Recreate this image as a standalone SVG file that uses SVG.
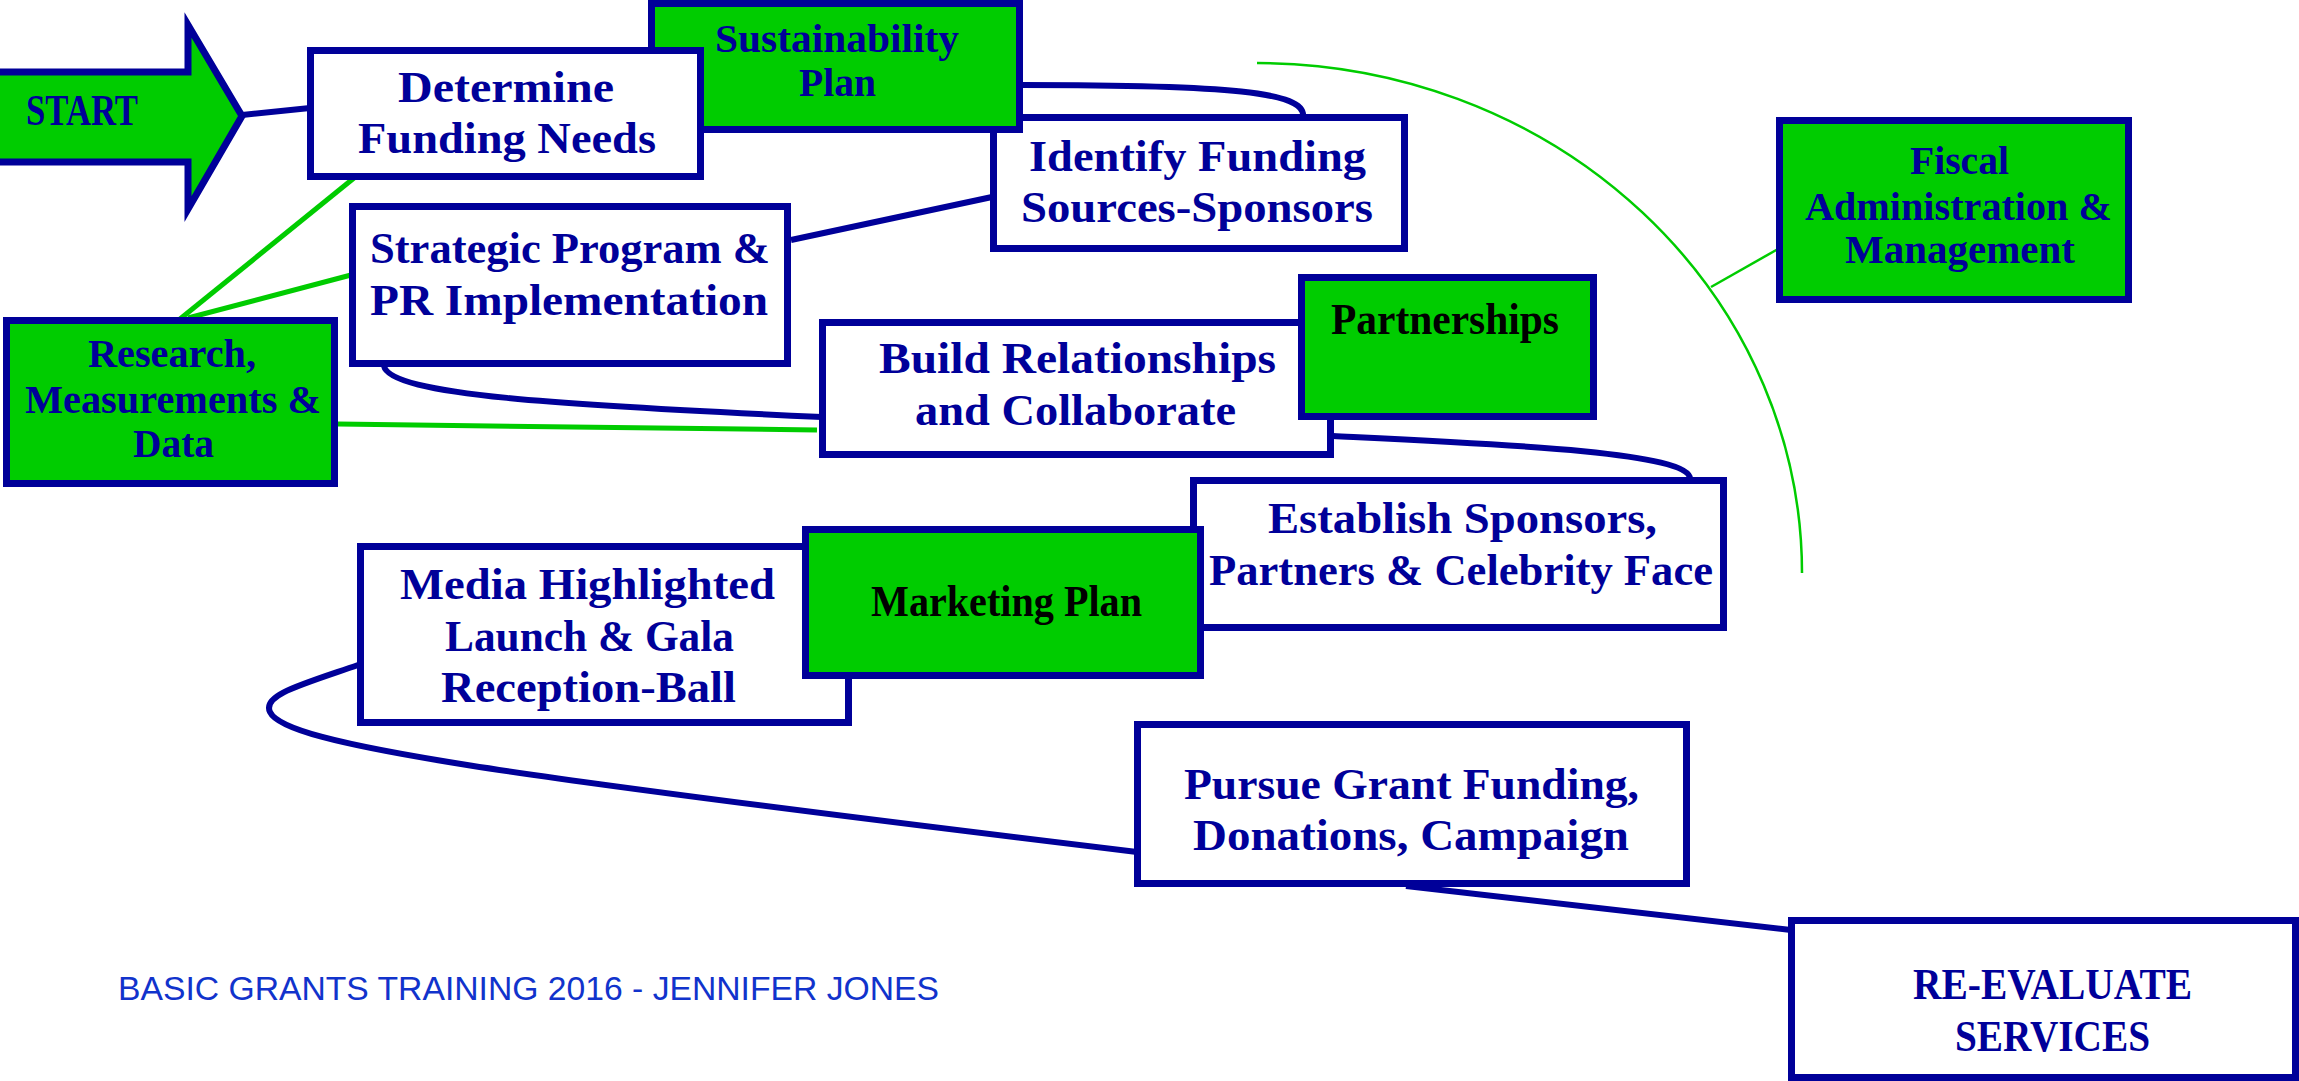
<svg xmlns="http://www.w3.org/2000/svg" width="2299" height="1081" viewBox="0 0 2299 1081">
<style>
.bw{fill:#ffffff;stroke:#000099;stroke-width:7}
.bg{fill:#00cc00;stroke:#000099;stroke-width:7}
.t{font-family:"Liberation Serif","Times New Roman",serif;font-weight:bold;font-size:44px;fill:#000099;text-anchor:middle}
.s{font-size:39px}
.k{fill:#000000}
.cn{fill:none;stroke:#000099;stroke-width:6}
.cg{fill:none;stroke:#00cc00;stroke-width:5}
.ca{fill:none;stroke:#00cc00;stroke-width:2.5}
.ft{font-family:"Liberation Sans",Arial,sans-serif;font-size:33px;fill:#1133cc}
</style>
<rect width="2299" height="1081" fill="#ffffff"/>
<g id="connectors">
<path class="cn" d="M242,115 L310,108"/>
<path class="cn" d="M1022,85 C1230,85 1305,92 1303,116"/>
<path class="cn" d="M791,240 L992,197"/>
<path class="cn" d="M384,366 C390,395 560,405 822,417"/>
<path class="cn" d="M1333,436 C1500,444 1692,452 1690,479"/>
<path class="cn" d="M358,665 C300,685 262,695 270,712 C285,745 500,775 1137,852"/>
<path class="cn" d="M1406,886 L1791,930"/>
<path class="cg" d="M180,319 L354,178"/>
<path class="cg" d="M188,318 L351,275"/>
<path class="cg" d="M338,424 L817,430"/>
<path class="ca" d="M1257,63 A545,510 0 0 1 1802,573"/>
<path class="ca" d="M1711,287 L1778,249"/>
</g>
<g id="start">
<polygon points="-10,72 188,72 188,25 242,116 188,209 188,162 -10,162" fill="#00cc00" stroke="#000099" stroke-width="7" stroke-linejoin="miter"/>
<text class="t" x="82" y="125" textLength="112" lengthAdjust="spacingAndGlyphs">START</text>
</g>
<g id="identify">
<rect class="bw" x="993.5" y="117.5" width="411" height="131"/>
<text class="t" x="1197.5" y="171" textLength="337" lengthAdjust="spacingAndGlyphs">Identify Funding</text>
<text class="t" x="1197" y="222" textLength="352" lengthAdjust="spacingAndGlyphs">Sources-Sponsors</text>
</g>
<g id="sustainability">
<rect class="bg" x="651.5" y="3.5" width="368" height="126"/>
<text class="t s" x="837" y="52" textLength="244" lengthAdjust="spacingAndGlyphs">Sustainability</text>
<text class="t s" x="837.5" y="96" textLength="77" lengthAdjust="spacingAndGlyphs">Plan</text>
</g>
<g id="determine">
<rect class="bw" x="310.5" y="50.5" width="390" height="126"/>
<text class="t" x="506" y="102" textLength="216" lengthAdjust="spacingAndGlyphs">Determine</text>
<text class="t" x="507" y="153" textLength="298" lengthAdjust="spacingAndGlyphs">Funding Needs</text>
</g>
<g id="fiscal">
<rect class="bg" x="1779.5" y="120.5" width="349" height="179"/>
<text class="t s" x="1959.5" y="174" textLength="99" lengthAdjust="spacingAndGlyphs">Fiscal</text>
<text class="t s" x="1958.5" y="220" textLength="307" lengthAdjust="spacingAndGlyphs">Administration &amp;</text>
<text class="t s" x="1960" y="263" textLength="230" lengthAdjust="spacingAndGlyphs">Management</text>
</g>
<g id="strategic">
<rect class="bw" x="352.5" y="206.5" width="435" height="157"/>
<text class="t" x="570" y="263" textLength="400" lengthAdjust="spacingAndGlyphs">Strategic Program &amp;</text>
<text class="t" x="569" y="315" textLength="398" lengthAdjust="spacingAndGlyphs">PR Implementation</text>
</g>
<g id="research">
<rect class="bg" x="6.5" y="320.5" width="328" height="163"/>
<text class="t s" x="172" y="367" textLength="168" lengthAdjust="spacingAndGlyphs">Research,</text>
<text class="t s" x="173" y="413" textLength="296" lengthAdjust="spacingAndGlyphs">Measurements &amp;</text>
<text class="t s" x="173.5" y="457" textLength="81" lengthAdjust="spacingAndGlyphs">Data</text>
</g>
<g id="build">
<rect class="bw" x="822.5" y="322.5" width="508" height="132"/>
<text class="t" x="1077.5" y="373" textLength="397" lengthAdjust="spacingAndGlyphs">Build Relationships</text>
<text class="t" x="1075.5" y="425" textLength="321" lengthAdjust="spacingAndGlyphs">and Collaborate</text>
</g>
<g id="partnerships">
<rect class="bg" x="1301.5" y="277.5" width="292" height="139"/>
<text class="t k" x="1445" y="334" textLength="228" lengthAdjust="spacingAndGlyphs">Partnerships</text>
</g>
<g id="establish">
<rect class="bw" x="1193.5" y="480.5" width="530" height="147"/>
<text class="t" x="1462.5" y="533" textLength="389" lengthAdjust="spacingAndGlyphs">Establish Sponsors,</text>
<text class="t" x="1461" y="585" textLength="504" lengthAdjust="spacingAndGlyphs">Partners &amp; Celebrity Face</text>
</g>
<g id="media">
<rect class="bw" x="360.5" y="546.5" width="488" height="176"/>
<text class="t" x="587.5" y="599" textLength="375" lengthAdjust="spacingAndGlyphs">Media Highlighted</text>
<text class="t" x="589.5" y="651" textLength="289" lengthAdjust="spacingAndGlyphs">Launch &amp; Gala</text>
<text class="t" x="588.5" y="702" textLength="295" lengthAdjust="spacingAndGlyphs">Reception-Ball</text>
</g>
<g id="marketing">
<rect class="bg" x="805.5" y="529.5" width="395" height="146"/>
<text class="t k" x="1006.5" y="616" textLength="271" lengthAdjust="spacingAndGlyphs">Marketing Plan</text>
</g>
<g id="pursue">
<rect class="bw" x="1137.5" y="724.5" width="549" height="159"/>
<text class="t" x="1411.5" y="799" textLength="455" lengthAdjust="spacingAndGlyphs">Pursue Grant Funding,</text>
<text class="t" x="1411" y="850" textLength="436" lengthAdjust="spacingAndGlyphs">Donations, Campaign</text>
</g>
<g id="reevaluate">
<rect class="bw" x="1791.5" y="920.5" width="504" height="157"/>
<text class="t" x="2052.5" y="999" textLength="279" lengthAdjust="spacingAndGlyphs">RE-EVALUATE</text>
<text class="t" x="2052.5" y="1051" textLength="195" lengthAdjust="spacingAndGlyphs">SERVICES</text>
</g>
<g id="footer">
<text class="ft" x="118" y="1000" textLength="821" lengthAdjust="spacingAndGlyphs">BASIC GRANTS TRAINING 2016 - JENNIFER JONES</text>
</g>
</svg>
